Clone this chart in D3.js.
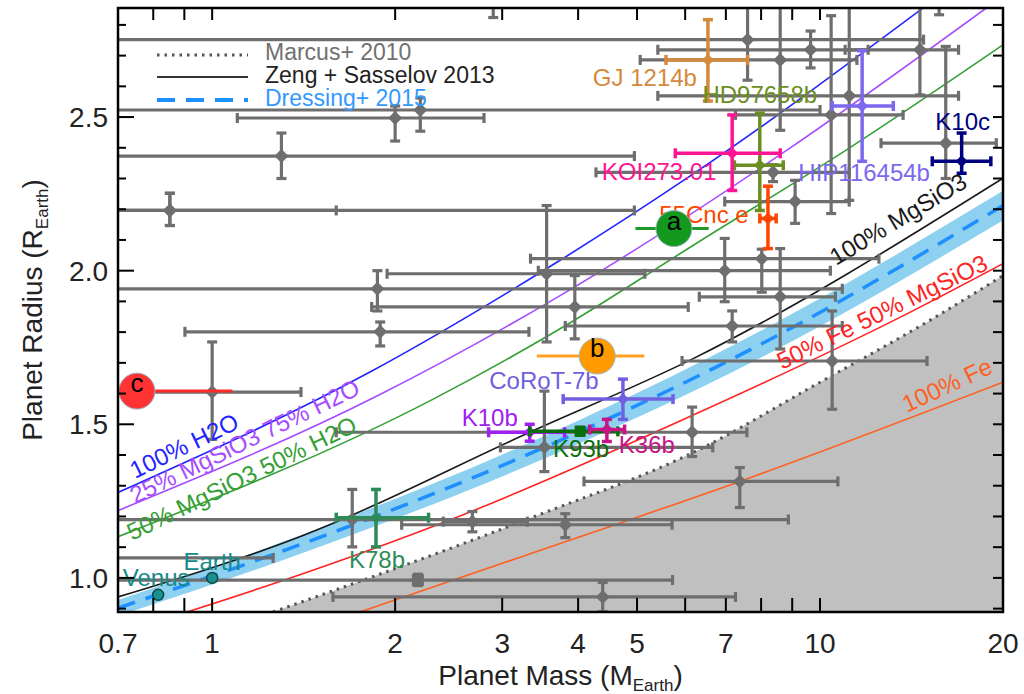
<!DOCTYPE html>
<html><head><meta charset="utf-8">
<script src="https://cdn.jsdelivr.net/npm/d3@7"></script>
<style>
body{margin:0;background:#fff}
svg{display:block}
text{font-family:"Liberation Sans",Arial,Helvetica,sans-serif}
</style>
</head><body>
<svg id="c" width="1024" height="694"></svg>
<script>
// ---------------- DATA ----------------
const xTickValues=[0.7,0.8,0.9,1,2,3,4,5,6,7,8,9,10,20];
const xLabelValues=[0.7,1,2,3,4,5,7,10,20];
const xLabelTexts=["0.7","1","2","3","4","5","7","10","20"];
const yLabelValues=[1.0,1.5,2.0,2.5];
const yLabelTexts=["1.0","1.5","2.0","2.5"];
const yMinorValues=[0.9,1.1,1.2,1.3,1.4,1.6,1.7,1.8,1.9,2.1,2.2,2.3,2.4,2.6,2.7,2.8];

// model curves: [mass, radius]
const curveH2O100=[[0.70,1.278],[1.818,1.670],[3.73,2.033],[6.04,2.301],[14.8,2.856]];
const curveMg25H2O75=[[0.70,1.219],[1.867,1.592],[3.73,1.918],[8.92,2.399],[18.8,2.856]];
const curveMg50H2O50=[[0.70,1.134],[2.31,1.582],[3.73,1.810],[6.33,2.095],[11.17,2.399],[20,2.735]];
const curveMgSiO3=[[0.70,0.938],[1.394,1.134],[3.33,1.474],[6.16,1.712],[20,2.301]];
const curveFe50=[[0.909,0.889],[1.394,1.010],[2.40,1.180],[6.33,1.539],[13.38,1.843],[20,2.023]];
const curveFe100=[[1.75,0.889],[3.33,1.078],[7.38,1.314],[20,1.637]];
const curveMarcus=[[1.26,0.889],[3.29,1.190],[6.33,1.418],[9.88,1.631],[15.3,1.843],[20,1.984]];
const dressingMass=[0.70,1.394,3.17,8.18,20];
const dressingRad=[0.902,1.108,1.386,1.771,2.212];
const dressingLo=[0.876,1.078,1.350,1.727,2.164];
const dressingHi=[0.928,1.138,1.422,1.815,2.260];

// grey planets: [mass, massLo, massHi, radius, radiusLo, radiusHi]
const greyPlanets=[
 [2.90,2.5,3.4,2.95,2.824,3.1],
 [15.7,13,18,2.95,2.833,3.1],
 [7.60,0.5,14.8,2.752,2.62,2.95],
 [9.65,5.41,12.0,2.719,2.66,2.78],
 [14.6,11.0,16.9,2.719,2.572,2.95],
 [8.60,5.06,11.5,2.686,2.457,2.95],
 [11.17,5.41,16.9,2.569,2.229,2.95],
 [10.43,7.26,13.7,2.507,2.186,2.830],
 [16.1,12.6,19.5,2.415,2.30,2.73],
 [8.37,4.28,11.17,2.32,2.29,2.345],
 [9.10,6.97,11.17,2.225,2.154,2.294],
 [1.30,0.5,4.95,2.373,2.30,2.448],
 [0.852,0.5,1.60,2.196,2.147,2.252],
 [0.852,0.5,4.95,2.196,2.147,2.252],
 [2.0,1.10,2.80,2.497,2.422,2.536],
 [2.20,0.5,10.0,2.523,2.454,2.562],
 [1.87,0.5,10.88,1.941,1.869,2.0],
 [1.89,0.902,3.32,1.801,1.755,1.833],
 [3.55,1.94,5.15,1.990,1.768,2.212],
 [8.02,3.34,12.5,2.039,1.93,2.07],
 [6.97,3.44,10.4,2.0,1.899,2.105],
 [3.95,1.83,6.07,1.882,1.778,1.984],
 [7.17,3.81,10.88,1.820,1.768,1.869],
 [8.60,6.33,10.6,1.915,1.745,2.072],
 [10.47,5.93,15.0,1.706,1.549,1.869],
 [6.16,1.60,7.58,1.474,1.395,1.556],
 [3.52,2.98,6.66,1.425,1.346,1.608],
 [7.38,4.09,10.7,1.314,1.229,1.359],
 [1.70,0.5,8.87,1.19,1.101,1.288],
 [2.68,2.4,3.3,1.183,1.150,1.216],
 [3.81,2.05,5.71,1.173,1.131,1.209],
 [4.39,1.58,7.26,0.938,0.89,0.985],
 [1.0,0.5,1.40,1.605,1.451,1.768],
 [0.6,0.4,1.26,1.065,1.05,1.08]
];
const greySquares=[[2.18,0.5,5.72,0.993,0.975,1.012]];

// named planets
const planetNames=["GJ 1214b","HD97658b","KOI273.01","HIP116454b","K10c","55Cnc e","CoRoT-7b","K10b","K93b","K36b","K78b"];
const planetValues=[
 [6.54,5.58,7.60,2.686,2.552,2.817],
 [7.96,7.23,8.70,2.343,2.196,2.513],
 [7.17,5.78,8.60,2.382,2.261,2.507],
 [11.73,10.47,13.2,2.536,2.356,2.716],
 [17.1,15.3,19.1,2.356,2.317,2.448],
 [8.21,7.96,8.47,2.17,2.072,2.275],
 [4.74,3.78,5.73,1.582,1.516,1.647],
 [3.33,2.85,3.80,1.474,1.445,1.50],
 [4.03,3.33,4.65,1.477,1.465,1.49],
 [4.46,4.18,4.77,1.483,1.444,1.516],
 [1.86,1.60,2.27,1.196,1.101,1.288]
];
const solarNames=["Venus","Earth"];
const solarValues=[[0.815,0.945],[1.0,1.0]];
// big circles: [mass, massLo, massHi, radius]
const circleNames=["a","b","c"];
const circleValues=[[5.75,4.97,6.56,2.137],[4.30,3.42,5.14,1.722],[0.752,0.752,1.08,1.608]];

// ---------------- STYLE ----------------
const GREY="#6e6e6e";
const planetStyle={
 "GJ 1214b":{c:"#d4893c",dx:-63,dy:26},
 "HD97658b":{c:"#6b8e23",dx:0,dy:-62},
 "KOI273.01":{c:"#ff1493",dx:-73,dy:27},
 "HIP116454b":{c:"#7b68ee",dx:2,dy:75},
 "K10c":{c:"#000080",dx:1,dy:-31},
 "55Cnc e":{c:"#ff4500",dx:-64,dy:5},
 "CoRoT-7b":{c:"#7060e0",dx:-79,dy:-10},
 "K10b":{c:"#a020f0",dx:-40,dy:-6},
 "K93b":{c:"#0a6e0a",dx:1,dy:26,sq:true},
 "K36b":{c:"#c71585",dx:40,dy:23},
 "K78b":{c:"#2e8b57",dx:1,dy:50}
};
const circleStyle={a:{fill:"#14991f",bar:"#1d9a2a"},b:{fill:"#ff9a00",bar:"#ffa020"},c:{fill:"#ff3333",bar:"#ff2a2a"}};

// ---------------- CHART ----------------
const M={l:118,r:1003,t:8,b:612};
const x=d3.scaleLog().domain([0.7,20]).range([M.l,M.r]);
const y=d3.scaleLinear().domain([0.889,2.855]).range([M.b,M.t]);
const svg=d3.select("#c");
svg.append("defs").append("clipPath").attr("id","clip").append("rect")
  .attr("x",M.l).attr("y",M.t).attr("width",M.r-M.l).attr("height",M.b-M.t);
const plot=svg.append("g").attr("clip-path","url(#clip)");

const line=d3.line().x(d=>x(d[0])).y(d=>y(d[1])).curve(d3.curveMonotoneX);

// Marcus forbidden region
plot.append("path").datum(curveMarcus)
  .attr("d",d3.area().x(d=>x(d[0])).y0(M.b).y1(d=>y(d[1])).curve(d3.curveMonotoneX))
  .attr("fill","#c0c0c0");
plot.append("path").datum(curveMarcus).attr("d",line).attr("fill","none")
  .attr("stroke","#555").attr("stroke-width",3).attr("stroke-dasharray","2.5,5");

// Dressing band
const band=dressingMass.map((m,i)=>[m,dressingLo[i],dressingHi[i]]);
plot.append("path").datum(band)
  .attr("d",d3.area().x(d=>x(d[0])).y0(d=>y(d[1])).y1(d=>y(d[2])).curve(d3.curveMonotoneX))
  .attr("fill","#8ed0ef");
plot.append("path").datum(dressingMass.map((m,i)=>[m,dressingRad[i]])).attr("d",line)
  .attr("fill","none").attr("stroke","#1e8fff").attr("stroke-width",3.5).attr("stroke-dasharray","18,11");

// model curves
const models=[[curveH2O100,"#2323ff"],[curveMg25H2O75,"#a64dff"],[curveMg50H2O50,"#36a036"],
  [curveMgSiO3,"#1a1a1a"],[curveFe50,"#ff2424"],[curveFe100,"#ff5f1f"]];
models.forEach(([d,c])=>plot.append("path").datum(d).attr("d",line).attr("fill","none")
  .attr("stroke",c).attr("stroke-width",1.6));

// error bars
function errBar(g,d,color,w,cap){
  const [m,ml,mh,r,rl,rh]=d;
  const cx=x(m),cy=y(r);
  const s=g.append("g").attr("stroke",color).attr("stroke-width",w).attr("fill","none");
  s.append("line").attr("x1",x(ml)).attr("x2",x(mh)).attr("y1",cy).attr("y2",cy);
  s.append("line").attr("x1",x(ml)).attr("x2",x(ml)).attr("y1",cy-cap).attr("y2",cy+cap);
  s.append("line").attr("x1",x(mh)).attr("x2",x(mh)).attr("y1",cy-cap).attr("y2",cy+cap);
  s.append("line").attr("x1",cx).attr("x2",cx).attr("y1",y(rl)).attr("y2",y(rh));
  s.append("line").attr("x1",cx-cap).attr("x2",cx+cap).attr("y1",y(rl)).attr("y2",y(rl));
  s.append("line").attr("x1",cx-cap).attr("x2",cx+cap).attr("y1",y(rh)).attr("y2",y(rh));
  return [cx,cy];
}
function diamond(g,cx,cy,h,color){
  g.append("path").attr("d",`M${cx},${cy-h}L${cx+h},${cy}L${cx},${cy+h}L${cx-h},${cy}Z`).attr("fill",color);
}
function square(g,cx,cy,h,color){
  g.append("rect").attr("x",cx-h).attr("y",cy-h).attr("width",2*h).attr("height",2*h).attr("fill",color);
}
const gGrey=plot.append("g");
greyPlanets.forEach(d=>{const [cx,cy]=errBar(gGrey,d,GREY,3.2,5);diamond(gGrey,cx,cy,7,GREY);});
greySquares.forEach(d=>{const [cx,cy]=errBar(gGrey,d,GREY,3.2,5);square(gGrey,cx,cy,6,GREY);});

const gCol=plot.append("g");
planetNames.forEach((n,i)=>{
  const st=planetStyle[n];
  const [cx,cy]=errBar(gCol,planetValues[i],st.c,3.5,5);
  if(st.sq) square(gCol,cx,cy,5.5,st.c); else diamond(gCol,cx,cy,6,st.c);
});

// text helper
const gTxt=svg.append("g");
function label(xp,yp,s,color,size,anchor,rot){
  const t=gTxt.append("text").attr("font-size",size).attr("fill",color).attr("text-anchor",anchor||"middle").text(s);
  if(rot) t.attr("transform",`translate(${xp},${yp}) rotate(${rot})`);
  else t.attr("x",xp).attr("y",yp);
  return t;
}
planetNames.forEach((n,i)=>{
  const st=planetStyle[n],v=planetValues[i];
  label(x(v[0])+st.dx,y(v[3])+st.dy,n,st.c,24);
});

// solar system
solarNames.forEach((n,i)=>{
  const v=solarValues[i];
  plot.append("circle").attr("cx",x(v[0])).attr("cy",y(v[1])).attr("r",5.5)
    .attr("fill","#1a9090").attr("stroke","#0b4a4a").attr("stroke-width",1.5);
});
label(x(solarValues[0][0])-2,y(solarValues[0][1])-9,"Venus","#168a8a",24);
label(x(solarValues[1][0]),y(solarValues[1][1])-8,"Earth","#168a8a",24);

// big circles
const gCirc=svg.append("g").attr("clip-path","url(#clip)");
circleNames.forEach((n,i)=>{
  const [m,ml,mh,r]=circleValues[i],st=circleStyle[n];
  gCirc.append("line").attr("x1",x(ml)).attr("x2",x(mh)).attr("y1",y(r)).attr("y2",y(r))
    .attr("stroke",st.bar).attr("stroke-width",3);
  gCirc.append("circle").attr("cx",x(m)).attr("cy",y(r)).attr("r",18).attr("fill",st.fill)
    .attr("stroke","#9fb6c8").attr("stroke-width",1);
  gCirc.append("text").attr("x",x(m)).attr("y",y(r)+1).attr("text-anchor","middle")
    .attr("font-size",26).attr("fill","#000").text(n);
});

// curve labels
label(135,479,"100% H2O","#2323ff",24,"start",-26);
label(135,504,"25% MgSiO3 75% H2O","#a64dff",24,"start",-26);
label(132,541,"50% MgSiO3 50% H2O","#36a036",24,"start",-26);
label(836,266,"100% MgSiO3","#1a1a1a",24,"start",-31);
label(782,370,"50% Fe 50% MgSiO3","#ff2424",24,"start",-26);
label(907,413,"100% Fe","#ff5f1f",24,"start",-25);

// legend
const lg=svg.append("g");
lg.append("line").attr("x1",157).attr("x2",248).attr("y1",55).attr("y2",55)
  .attr("stroke","#555").attr("stroke-width",3).attr("stroke-dasharray","2.5,5");
lg.append("line").attr("x1",157).attr("x2",248).attr("y1",77).attr("y2",77)
  .attr("stroke","#333").attr("stroke-width",2);
lg.append("line").attr("x1",157).attr("x2",248).attr("y1",100).attr("y2",100)
  .attr("stroke","#1e8fff").attr("stroke-width",4).attr("stroke-dasharray","18,11");
label(265,60,"Marcus+ 2010","#707070",23,"start");
label(265,83,"Zeng + Sasselov 2013","#222",23,"start");
label(265,106,"Dressing+ 2015","#3399ff",23,"start");

// axes frame & ticks
const ax=svg.append("g").attr("stroke","#000").attr("stroke-width",2);
xTickValues.forEach(v=>{
  ax.append("line").attr("x1",x(v)).attr("x2",x(v)).attr("y1",M.b).attr("y2",M.b-14);
  ax.append("line").attr("x1",x(v)).attr("x2",x(v)).attr("y1",M.t).attr("y2",M.t+12);
});
yLabelValues.forEach(v=>{
  ax.append("line").attr("x1",M.l).attr("x2",M.l+16).attr("y1",y(v)).attr("y2",y(v));
  ax.append("line").attr("x1",M.r).attr("x2",M.r-10).attr("y1",y(v)).attr("y2",y(v));
});
yMinorValues.forEach(v=>{
  ax.append("line").attr("x1",M.l).attr("x2",M.l+8).attr("y1",y(v)).attr("y2",y(v));
  ax.append("line").attr("x1",M.r).attr("x2",M.r-10).attr("y1",y(v)).attr("y2",y(v));
});
svg.append("rect").attr("x",M.l).attr("y",M.t).attr("width",M.r-M.l).attr("height",M.b-M.t)
  .attr("fill","none").attr("stroke","#000").attr("stroke-width",2.5);

xLabelValues.forEach((v,i)=>label(x(v),653,xLabelTexts[i],"#222",28));
yLabelValues.forEach((v,i)=>label(108,y(v)+10,yLabelTexts[i],"#222",28,"end"));

// titles
const xt=svg.append("text").attr("x",(M.l+M.r)/2).attr("y",685).attr("text-anchor","middle")
  .attr("font-size",28).attr("fill","#222");
xt.append("tspan").text("Planet Mass (M");
xt.append("tspan").attr("font-size",17).attr("dy",6).text("Earth");
xt.append("tspan").attr("dy",-6).text(")");
const yt=svg.append("text").attr("transform",`translate(42,${(M.t+M.b)/2}) rotate(-90)`)
  .attr("text-anchor","middle").attr("font-size",28).attr("fill","#222");
yt.append("tspan").text("Planet Radius (R");
yt.append("tspan").attr("font-size",17).attr("dy",6).text("Earth");
yt.append("tspan").attr("dy",-6).text(")");
</script>
</body></html>
